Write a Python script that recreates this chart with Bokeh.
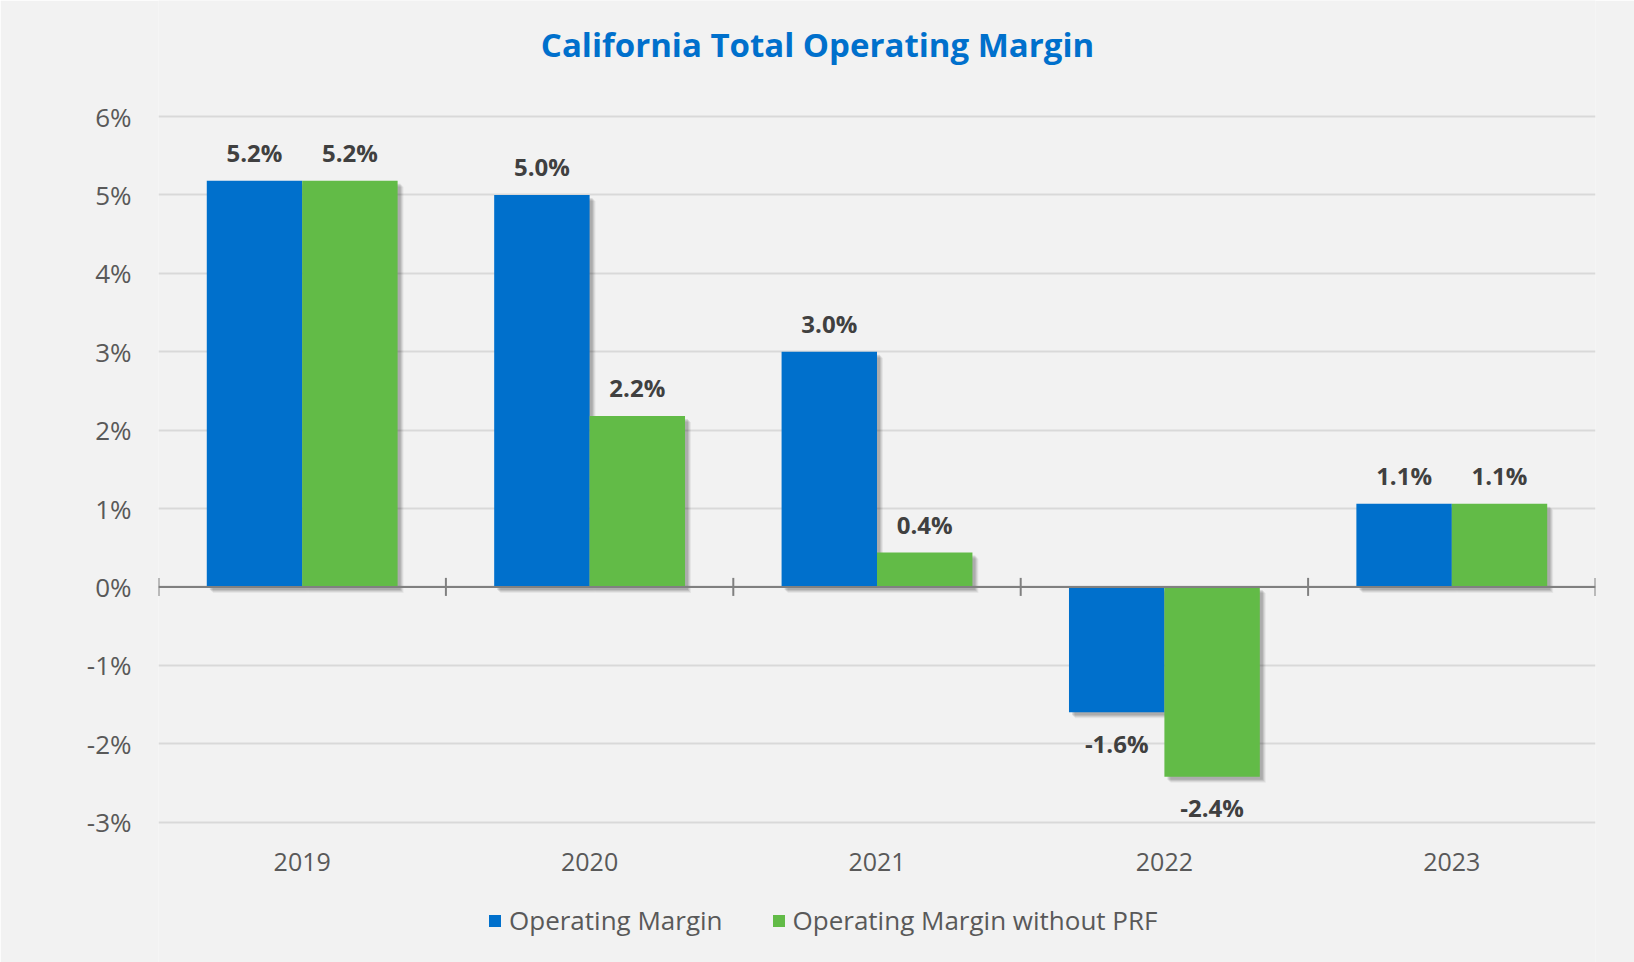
from bokeh.plotting import figure
from bokeh.models import ColumnDataSource, FixedTicker, Legend, LegendItem, Span, Range1d
from bokeh.core.properties import value
from bokeh.embed import file_html
from bokeh.resources import INLINE

# ---- data ----
years = ["2019", "2020", "2021", "2022", "2023"]
operating_margin = [5.18, 5.0, 3.0, -1.6, 1.06]
margin_without_prf = [5.18, 2.18, 0.44, -2.42, 1.06]
y_ticks = [-3, -2, -1, 0, 1, 2, 3, 4, 5, 6]
series_names = ["Operating Margin", "Operating Margin without PRF"]
series_colors = ["#0070CC", "#62BB47"]
title_text = "California Total Operating Margin"

FONT = "Open Sans"
n = len(years)
centers = [i + 0.5 for i in range(n)]
bar_w = 0.332

W, H = 1634, 962
LEFT, RIGHT = 158, 39
TOP_PX = 116          # pixel row of the top tick
PX_PER_UNIT = 78.4    # pixels per 1 percentage point
y_top = max(y_ticks) + TOP_PX / PX_PER_UNIT
y_bot = max(y_ticks) - (H - TOP_PX) / PX_PER_UNIT
# shift to centre the title on the whole figure rather than on the plot frame
title_dx = W / 2 - (LEFT + (W - LEFT - RIGHT) / 2)

p = figure(width=W, height=H, x_range=Range1d(0, n), y_range=Range1d(y_bot, y_top),
           output_backend="svg", toolbar_location=None,
           min_border_left=LEFT, min_border_right=RIGHT, min_border_top=0, min_border_bottom=0,
           background_fill_color="#F2F2F2", border_fill_color="#F2F2F2", outline_line_color=None)

# grid
p.xgrid.visible = False
p.ygrid.ticker = FixedTicker(ticks=y_ticks)
p.ygrid.grid_line_color = "#D9D9D9"
p.ygrid.grid_line_width = 2

# title (drawn above the top tick)
p.text(x=[n / 2], y=[max(y_ticks)], text=[title_text], x_offset=title_dx, y_offset=-72,
       text_align="center", text_baseline="middle", text_font=value(FONT),
       text_font_style="bold", text_font_size="33px", text_color="#0070CC")

# shadows + bars
bar_renderers = []
for k, (vals, color) in enumerate(zip([operating_margin, margin_without_prf], series_colors)):
    xs = [c + (k - 0.5) * bar_w for c in centers]
    for dpx, alpha in [(6, 0.05), (5, 0.07), (4, 0.09), (3, 0.10)]:
        dx = dpx / 287.4
        dy = dpx / PX_PER_UNIT
        src = ColumnDataSource(dict(
            left=[x - bar_w / 2 + dx for x in xs],
            right=[x + bar_w / 2 + dx for x in xs],
            top=[max(v, 0) - dy for v in vals],
            bottom=[min(v, 0) - dy for v in vals]))
        p.quad(left="left", right="right", top="top", bottom="bottom", source=src,
               fill_color="#000000", fill_alpha=alpha, line_color=None)

for k, (vals, color) in enumerate(zip([operating_margin, margin_without_prf], series_colors)):
    xs = [c + (k - 0.5) * bar_w for c in centers]
    src = ColumnDataSource(dict(x=xs, top=vals))
    r = p.vbar(x="x", top="top", bottom=0, width=bar_w, source=src,
               fill_color=color, line_color=None)
    bar_renderers.append(r)

# zero axis line with category-boundary ticks
p.add_layout(Span(location=0, dimension="width", line_color="#808080", line_width=2))
bounds = list(range(n + 1))
p.segment(x0=bounds, x1=bounds, y0=[-0.115] * len(bounds), y1=[0.115] * len(bounds),
          line_color="#808080", line_width=2)

# data labels
for k, vals in enumerate([operating_margin, margin_without_prf]):
    xs = [c + (k - 0.5) * bar_w for c in centers]
    src = ColumnDataSource(dict(x=xs, y=vals, t=[f"{v:.1f}%" for v in vals],
                                yoff=[-28 if v >= 0 else 31 for v in vals]))
    p.text(x="x", y="y", text="t", y_offset="yoff", source=src, text_align="center",
           text_baseline="middle", text_font=value(FONT), text_font_style="bold",
           text_font_size="24px", text_color="#404040")

# category labels below the lowest tick
p.text(x=centers, y=[min(y_ticks)] * n, text=years, y_offset=40, text_align="center",
       text_baseline="middle", text_font=value(FONT), text_font_size="25px",
       text_color="#595959")

# axes
p.xaxis.visible = False
ax = p.yaxis[0]
ax.axis_line_color = None
ax.major_tick_line_color = None
ax.minor_tick_line_color = None
ax.major_label_text_font = FONT
ax.major_label_text_font_size = "26px"
ax.major_label_text_color = "#595959"
ax.ticker = FixedTicker(ticks=y_ticks)
ax.major_label_overrides = {t: f"{t}%" for t in y_ticks}
ax.major_label_standoff = 21

legend = Legend(items=[LegendItem(label=nm, renderers=[r]) for nm, r in zip(series_names, bar_renderers)],
                orientation="horizontal", glyph_width=15, glyph_height=15,
                label_text_font=FONT, label_text_font_size="26px", label_text_color="#595959",
                spacing=48, label_standoff=7, background_fill_alpha=0, border_line_color=None,
                padding=0, margin=0, location=(329, 24))
p.add_layout(legend)

open("out.html", "w").write(file_html(p, INLINE))
